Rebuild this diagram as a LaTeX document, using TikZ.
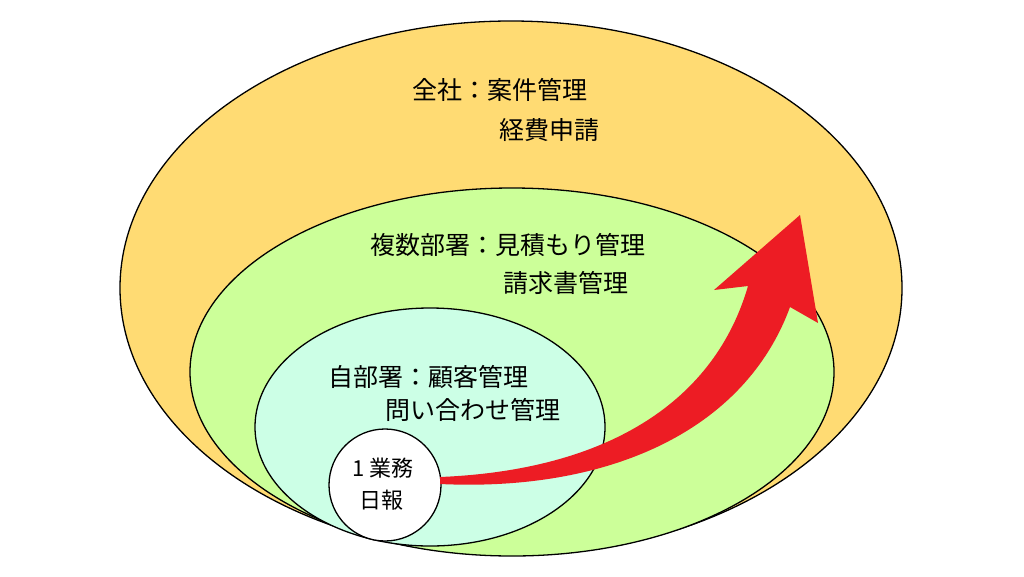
\documentclass[tikz,border=0pt]{standalone}
\usepackage{fontspec}
\usetikzlibrary{shapes.geometric}
\setmainfont{Noto Sans CJK JP}
\definecolor{cyel}{RGB}{255,219,115}
\definecolor{cgrn}{RGB}{204,255,153}
\definecolor{ccyn}{RGB}{204,255,230}
\definecolor{cred}{RGB}{237,28,36}
\begin{document}
\begin{tikzpicture}[x=1pt,y=-1pt,
  ell/.style={draw=black,line width=1.3pt},
  lbl/.style={anchor=west,inner sep=0pt,font=\fontsize{25}{30}\selectfont}]
\useasboundingbox (0,0) rectangle (1024,576);
\fill[white] (0,0) rectangle (1024,576);
\node[ell,fill=cyel,ellipse,minimum width=782,minimum height=534,inner sep=0] (all) at (511,288) {};
\node[ell,fill=cgrn,ellipse,minimum width=644,minimum height=368,inner sep=0] (multi) at (512,372) {};
\node[ell,fill=ccyn,ellipse,minimum width=350,minimum height=238,inner sep=0] (own) at (430,427) {};
\node[ell,fill=white,circle,minimum size=112,inner sep=0] (one) at (385,485) {};
\coordinate (s1) at (440,477);
\coordinate (s2) at (440,484);
\fill[cred] (s1) .. controls (610,470) and (715,400) .. (748,286)
  -- (714,290) -- (800,215) -- (818,323) -- (790,307)
  .. controls (745,430) and (610,492) .. (s2) -- cycle;
\node[lbl] (t1) at (412,90) {全社：案件管理};
\node[lbl] (t2) at (499,130) {経費申請};
\node[lbl] (t3) at (370,245) {複数部署：見積もり管理};
\node[lbl] (t4) at (503,283) {請求書管理};
\node[lbl] (t5) at (328,377) {自部署：顧客管理};
\node[lbl] (t6) at (385,410) {問い合わせ管理};
\node[lbl,font=\fontsize{22}{26}\selectfont] (t7) at (352,468) {1 業務};
\node[lbl,font=\fontsize{22}{26}\selectfont] (t8) at (359,500) {日報};
\end{tikzpicture}
\end{document}
